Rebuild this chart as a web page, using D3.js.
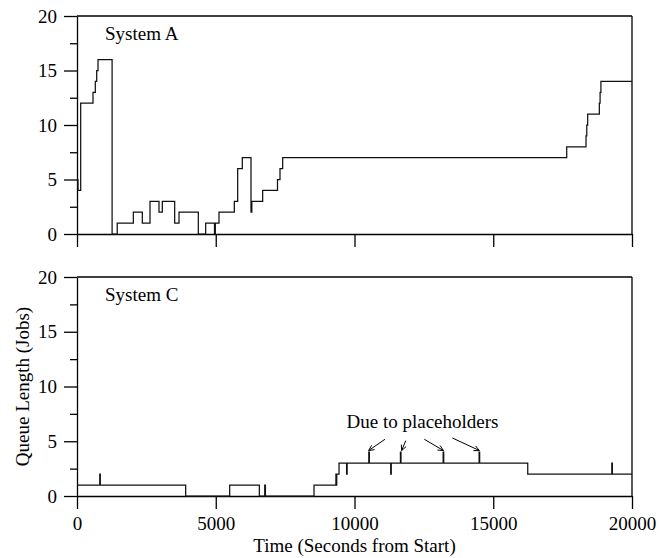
<!DOCTYPE html>
<html>
<head>
<meta charset="utf-8">
<script src="https://cdn.jsdelivr.net/npm/d3@7"></script>
<style>
  html, body { margin: 0; padding: 0; background: #fff; }
  svg { display: block; }
  text { font-family: "Liberation Serif", "Times New Roman", serif; fill: #000; }
</style>
</head>
<body>
<div id="chart"></div>
<script>
// ---- Data ----
const sysATimes = [0, 36, 133, 577, 660, 710, 757, 1265, 1450, 2030, 2354, 2631, 2955, 3075, 3520, 3676, 4372, 4637, 4955, 4985, 5117, 5670, 5790, 5957, 6270, 6300, 6691, 7225, 7315, 7412, 17647, 18343, 18370, 18403, 18823, 18850, 18880, 20000];
const sysAQueue = [5, 4, 12, 13, 14, 15, 16, 0, 1, 2, 1, 3, 2, 3, 1, 2, 0, 1, 0, 1, 2, 3, 6, 7, 2, 3, 4, 5, 6, 7, 8, 9, 10, 11, 12, 13, 14, 14];

const sysCTimes = [0, 820, 840, 3916, 5502, 6571, 6765, 6790, 8541, 9330, 9345, 9360, 9442, 9715, 9735, 10515, 10535, 11305, 11325, 11655, 11675, 13195, 13215, 14490, 14510, 16243, 19272, 19292, 20000];
const sysCQueue = [1, 2, 1, 0, 1, 0, 1, 0, 1, 2, 1, 2, 3, 2, 3, 4, 3, 2, 3, 4, 3, 4, 3, 4, 3, 2, 3, 2, 2];

const panelTitles = ["System A", "System C"];
const xTickValues = [0, 5000, 10000, 15000, 20000];
const yMajorTicks = [0, 5, 10, 15, 20];
const yMinorTicks = [2.5, 7.5, 12.5, 17.5];
const xTitle = "Time (Seconds from Start)";
const yTitle = "Queue Length (Jobs)";
const annotationText = "Due to placeholders";
// arrows: [tailTime, tailValue, headTime, headValue]
const arrowTailT = [11099, 11845, 12516, 13525];
const arrowTailV = [5.18, 5.05, 5.18, 5.30];
const arrowHeadT = [10510, 11700, 13205, 14500];
const arrowHeadV = [4.15, 4.15, 4.15, 4.15];

// ---- Layout ----
const W = 660, H = 558;
const FONT = 19;
const svg = d3.select("#chart").append("svg").attr("width", W).attr("height", H);
svg.append("rect").attr("width", W).attr("height", H).attr("fill", "#fff");

const x = d3.scaleLinear().domain([0, 20000]).range([77, 632]);
const panels = [
  { top: 16, bottom: 234, times: sysATimes, q: sysAQueue, title: panelTitles[0], labels: false },
  { top: 277, bottom: 496, times: sysCTimes, q: sysCQueue, title: panelTitles[1], labels: true }
];

let yC;
panels.forEach((p, i) => {
  const y = d3.scaleLinear().domain([0, 20]).range([p.bottom, p.top]);
  if (i === 1) yC = y;
  const g = svg.append("g");

  // x axis
  const xa = d3.axisBottom(x).tickValues(xTickValues).tickSize(13).tickSizeOuter(0).tickPadding(8)
    .tickFormat(d3.format("d"));
  if (!p.labels) xa.tickFormat("");
  const gx = g.append("g").attr("transform", `translate(0,${p.bottom})`).call(xa);

  // y axis major
  const ya = d3.axisLeft(y).tickValues(yMajorTicks).tickSize(13).tickSizeOuter(0).tickPadding(7).tickFormat(d3.format("d"));
  const gy = g.append("g").attr("transform", `translate(${x(0)},0)`).call(ya);
  // y axis minor
  const ym = d3.axisLeft(y).tickValues(yMinorTicks).tickSize(7).tickSizeOuter(0).tickFormat("");
  const gm = g.append("g").attr("transform", `translate(${x(0)},0)`).call(ym);
  gm.select(".domain").remove();

  [gx, gy, gm].forEach(a => {
    a.selectAll("path, line").attr("stroke", "#000").attr("stroke-width", 1.3);
    a.selectAll("text").attr("font-family", "Liberation Serif").attr("font-size", FONT).attr("fill", "#000");
  });

  // frame top & right
  g.append("line").attr("x1", x(0)).attr("x2", x(20000)).attr("y1", y(20)).attr("y2", y(20))
    .attr("stroke", "#000").attr("stroke-width", 1.3);
  g.append("line").attr("x1", x(20000)).attr("x2", x(20000)).attr("y1", y(20)).attr("y2", y(0))
    .attr("stroke", "#000").attr("stroke-width", 1.3);

  // data
  const pts = p.times.map((t, k) => ({ t, v: p.q[k] }));
  const line = d3.line().x(d => x(d.t)).y(d => y(d.v)).curve(d3.curveStepAfter);
  g.append("path").datum(pts).attr("d", line).attr("fill", "none")
    .attr("stroke", "#111").attr("stroke-width", 1.25);

  // title
  g.append("text").attr("x", 105).attr("y", p.top + 24).attr("font-size", FONT).text(p.title);
});

// annotation
svg.append("text").attr("x", 346.5).attr("y", 428).attr("font-size", FONT).text(annotationText);
arrowTailT.forEach((t, i) => {
  const x1 = x(t), y1 = yC(arrowTailV[i]);
  const x2 = x(arrowHeadT[i]), y2 = yC(arrowHeadV[i]);
  const ang = Math.atan2(y2 - y1, x2 - x1);
  const L = 6, a = 0.45;
  const path = `M${x1},${y1}L${x2},${y2}` +
    `M${x2 - L * Math.cos(ang - a)},${y2 - L * Math.sin(ang - a)}L${x2},${y2}` +
    `L${x2 - L * Math.cos(ang + a)},${y2 - L * Math.sin(ang + a)}`;
  svg.append("path").attr("d", path).attr("fill", "none").attr("stroke", "#000").attr("stroke-width", 1);
});

// axis titles
svg.append("text").attr("x", (x(0) + x(20000)) / 2).attr("y", 552).attr("text-anchor", "middle")
  .attr("font-size", FONT).text(xTitle);
svg.append("text").attr("transform", `translate(29,${(277 + 496) / 2}) rotate(-90)`)
  .attr("text-anchor", "middle").attr("font-size", FONT).text(yTitle);
</script>
</body>
</html>
